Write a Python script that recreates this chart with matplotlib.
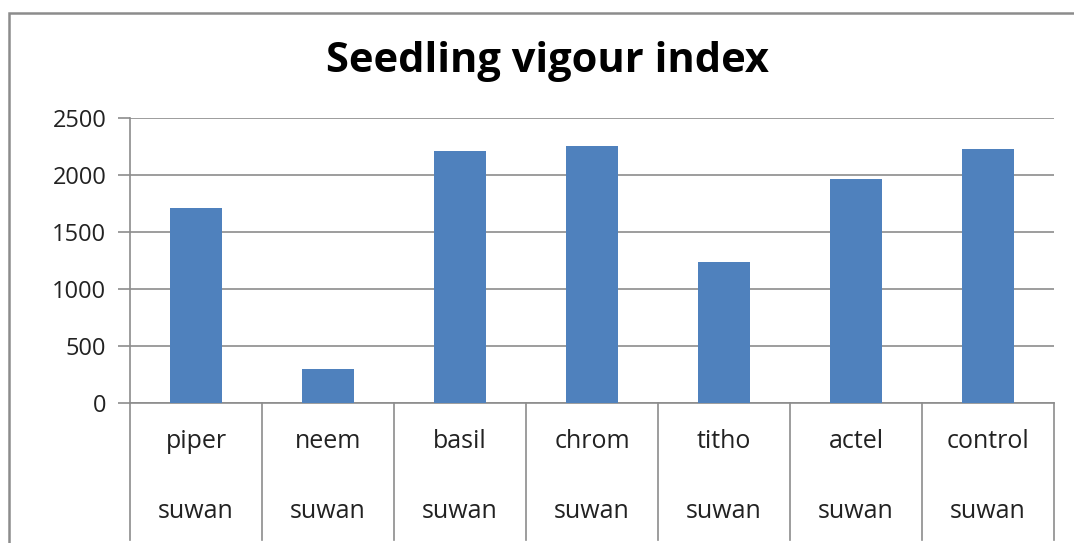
import numpy as np
import matplotlib
matplotlib.use("Agg")
import matplotlib.pyplot as plt
from matplotlib.patches import Rectangle
from matplotlib.transforms import blended_transform_factory

plt.rcParams['font.family'] = ['Open Sans', 'DejaVu Sans']

treatments = ['piper', 'neem', 'basil', 'chrom', 'titho', 'actel', 'control']
variety = ['suwan'] * 7
vigour = [1708, 300, 2210, 2255, 1234, 1962, 2228]
yticks = [0, 500, 1000, 1500, 2000, 2500]

W, H = 1074, 543
fig = plt.figure(figsize=(W / 100, H / 100), dpi=100)
ax = fig.add_axes([130 / W, 1 - 403 / H, (1054 - 130) / W, (403 - 118) / H])

# outer chart frame (runs off the right and bottom edge)
fig.patches.append(Rectangle((9 / W, -0.1), 1.2, 1.1 - 13 / H, transform=fig.transFigure,
                             fill=False, edgecolor='#8c8c8c', linewidth=1.8))

x = np.arange(len(treatments))
ax.bar(x, vigour, width=0.4, color='#4F81BD', zorder=3)

ax.set_xlim(-0.5, len(treatments) - 0.5)
ax.set_ylim(0, 2500)
ax.set_yticks(yticks)
ax.set_yticklabels([str(v) for v in yticks], fontsize=17, color='#222222')
ax.tick_params(axis='y', length=9, color='#8c8c8c', width=1.2, pad=8)
ax.set_xticks([])
ax.grid(axis='y', color='#8c8c8c', linewidth=1.2, zorder=0)

for s in ['top', 'right']:
    ax.spines[s].set_visible(False)
ax.spines['left'].set_color('#8c8c8c')
ax.spines['bottom'].set_color('#8c8c8c')
ax.spines['left'].set_linewidth(1.2)
ax.spines['bottom'].set_linewidth(1.2)

# multi-level category axis below the plot
tr = blended_transform_factory(ax.transData, ax.transAxes)
low = -(540 - 403) / (403 - 118)
for b in np.arange(len(treatments) + 1) - 0.5:
    ax.plot([b, b], [0, low], transform=tr, color='#8c8c8c', linewidth=1.2, clip_on=False)
for i, (t, v) in enumerate(zip(treatments, variety)):
    ax.text(i, -(441 - 403) / 285, t, transform=tr, ha='center', va='center',
            fontsize=18, color='#222222')
    ax.text(i, -(512 - 403) / 285, v, transform=tr, ha='center', va='center',
            fontsize=18, color='#222222')

fig.text(547 / W, 1 - 62 / H, 'Seedling vigour index', ha='center', va='center',
         fontsize=30, fontweight='bold')

fig.savefig('out.png', dpi=100)
